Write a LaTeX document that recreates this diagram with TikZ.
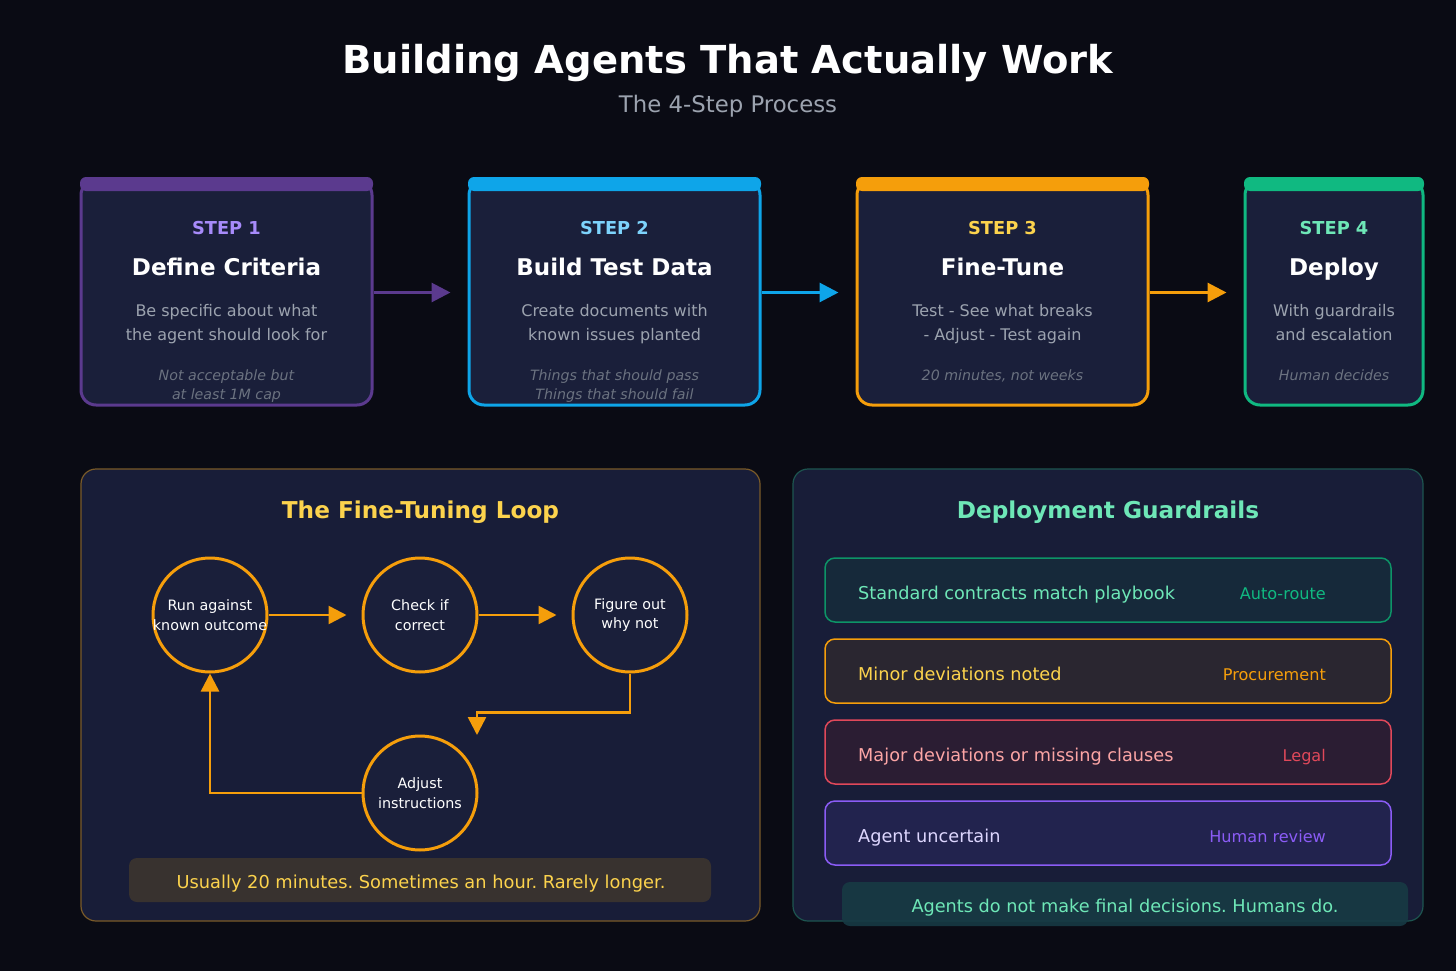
\documentclass[tikz,border=0pt]{standalone}
\usepackage{fontspec}
\setmainfont{DejaVu Sans}
\usetikzlibrary{arrows.meta}
\frenchspacing
\definecolor{bg}{HTML}{0A0B14}
\definecolor{card}{HTML}{1A1F3A}
\definecolor{panel}{HTML}{181D38}
\definecolor{cA}{HTML}{5B3A8E}
\definecolor{cAt}{HTML}{A78BFA}
\definecolor{cB}{HTML}{0EA5E9}
\definecolor{cBt}{HTML}{7DD3FC}
\definecolor{cC}{HTML}{F59E0B}
\definecolor{cCt}{HTML}{FCD34D}
\definecolor{cD}{HTML}{10B981}
\definecolor{cDt}{HTML}{6EE7B7}
\definecolor{cE}{HTML}{E0485A}
\definecolor{cEt}{HTML}{FCA5A5}
\definecolor{cF}{HTML}{8B5CF6}
\definecolor{cFt}{HTML}{DDD6FE}
\definecolor{desc}{HTML}{9CA3AF}
\definecolor{note}{HTML}{6B7280}
\definecolor{lpanel}{HTML}{7A5A28}
\definecolor{rpanel}{HTML}{1D5550}
\definecolor{rowA}{HTML}{16293A}
\definecolor{rowB}{HTML}{2A2630}
\definecolor{rowC}{HTML}{2B1D33}
\definecolor{rowD}{HTML}{22234E}
\definecolor{usual}{HTML}{38322F}
\definecolor{agents}{HTML}{173A44}
\newcommand\fsz[2]{\fontsize{#1}{#2}\selectfont}
\tikzset{
  stepbox/.style={draw=#1, line width=3pt, rounded corners=15pt, fill=card, minimum height=225pt, inner sep=0pt},
  steplbl/.style={anchor=base, inner sep=0pt, text=#1, font=\fsz{17.8}{21}\bfseries},
  steptitle/.style={anchor=base, inner sep=0pt, text=white, font=\fsz{23}{27}\bfseries},
  stepdesc/.style={anchor=base, inner sep=0pt, text=desc, font=\fsz{16}{19}},
  stepnote/.style={anchor=base, inner sep=0pt, text=note, font=\fsz{14.2}{17}\itshape},
  toparr/.style={draw=#1, line width=3pt, -{Triangle[length=19pt,width=19pt]}, shorten >=17pt},
  loopc/.style={circle, draw=cC, line width=3pt, fill=card, minimum size=114pt, inner sep=0pt},
  looptxt/.style={inner sep=0pt, text=white, font=\fsz{14.3}{19.5}, align=center},
  looparr/.style={draw=cC, line width=2.5pt, -{Triangle[length=18pt,width=18pt]}},
  rowbox/.style={draw=#1, line width=1.5pt, rounded corners=10pt, minimum width=566pt, minimum height=64pt, inner sep=0pt},
  rowtxt/.style={anchor=base west, inner sep=0pt, text=#1, font=\fsz{17.7}{21}},
  rowlbl/.style={anchor=base east, inner sep=0pt, text=#1, font=\fsz{16.1}{19}},
}
\begin{document}
\begin{tikzpicture}[x=1pt,y=-1pt]
\useasboundingbox[fill=bg] (0,0) rectangle (1456,971);

% title
\node[anchor=base, inner sep=0pt, text=white, font=\fsz{38.5}{46}\bfseries] (title) at (728,74) {Building Agents That Actually Work};
\node[anchor=base, inner sep=0pt, text=desc, font=\fsz{22.8}{27}] (sub) at (728,113) {The 4-Step Process};

% step boxes
\node[stepbox=cA, minimum width=291pt] (s1) at (226.5,292.5) {};
\node[stepbox=cB, minimum width=291pt] (s2) at (614.5,292.5) {};
\node[stepbox=cC, minimum width=291pt] (s3) at (1002.5,292.5) {};
\node[stepbox=cD, minimum width=178pt] (s4) at (1334,292.5) {};
\fill[cA, rounded corners=6pt] (80,177) rectangle (373,191);
\fill[cB, rounded corners=6pt] (468,177) rectangle (761,191);
\fill[cC, rounded corners=6pt] (856,177) rectangle (1149,191);
\fill[cD, rounded corners=6pt] (1244,177) rectangle (1424,191);

\node[steplbl=cAt] (l1) at (226.5,234) {STEP 1};
\node[steptitle] (t1) at (226.5,275) {Define Criteria};
\node[stepdesc] (d1a) at (226.5,316) {Be specific about what};
\node[stepdesc] (d1b) at (226.5,340) {the agent should look for};
\node[stepnote] (n1a) at (226.5,380) {Not acceptable but};
\node[stepnote] (n1b) at (226.5,399) {at least 1M cap};

\node[steplbl=cBt] (l2) at (614.5,234) {STEP 2};
\node[steptitle] (t2) at (614.5,275) {Build Test Data};
\node[stepdesc] (d2a) at (614.5,316) {Create documents with};
\node[stepdesc] (d2b) at (614.5,340) {known issues planted};
\node[stepnote] (n2a) at (614.5,380) {Things that should pass};
\node[stepnote] (n2b) at (614.5,399) {Things that should fail};

\node[steplbl=cCt] (l3) at (1002.5,234) {STEP 3};
\node[steptitle] (t3) at (1002.5,275) {Fine-Tune};
\node[stepdesc] (d3a) at (1002.5,316) {Test - See what breaks};
\node[stepdesc] (d3b) at (1002.5,340) {- Adjust - Test again};
\node[stepnote] (n3a) at (1002.5,380) {20 minutes, not weeks};

\node[steplbl=cDt] (l4) at (1334,234) {STEP 4};
\node[steptitle] (t4) at (1334,275) {Deploy};
\node[stepdesc] (d4a) at (1334,316) {With guardrails};
\node[stepdesc] (d4b) at (1334,340) {and escalation};
\node[stepnote] (n4a) at (1334,380) {Human decides};

\draw[toparr=cA] (s1) -- (s2);
\draw[toparr=cB] (s2) -- (s3);
\draw[toparr=cC] (s3) -- (s4);

% left panel
\node[draw=lpanel, line width=1.2pt, rounded corners=15pt, fill=panel, minimum width=679pt, minimum height=452pt, inner sep=0pt] (lp) at (420.5,695) {};
\node[anchor=base, inner sep=0pt, text=cCt, font=\fsz{23.2}{27}\bfseries] (lt) at (420.5,518) {The Fine-Tuning Loop};

\node[loopc] (c1) at (210,615) {};
\node[loopc] (c2) at (420,615) {};
\node[loopc] (c3) at (630,615) {};
\node[loopc] (c4) at (420,793) {};
\node[looptxt] (c1t) at (210,615) {Run against\\known outcome};
\node[looptxt] (c2t) at (420,615) {Check if\\correct};
\node[looptxt] (c3t) at (630,615) {Figure out\\why not};
\node[looptxt] (c4t) at (420,793) {Adjust\\instructions};
\coordinate (c4in) at (477,735);
\draw[looparr, shorten >=15pt] (c1) -- (c2);
\draw[looparr, shorten >=15pt] (c2) -- (c3);
\draw[looparr] (c3.south) -- ++(0,39) -| (c4in);
\draw[looparr] (c4.west) -| (c1.south);

\node[fill=usual, rounded corners=8pt, minimum width=582pt, minimum height=44pt, inner sep=0pt] (us) at (420,880) {};
\node[anchor=base, inner sep=0pt, text=cCt, font=\fsz{17.8}{21}] (ust) at (421,888) {Usually 20 minutes. Sometimes an hour. Rarely longer.};

% right panel
\node[draw=rpanel, line width=1.2pt, rounded corners=15pt, fill=panel, minimum width=630pt, minimum height=452pt, inner sep=0pt] (rp) at (1108,695) {};
\node[anchor=base, inner sep=0pt, text=cDt, font=\fsz{23.2}{27}\bfseries] (rt) at (1108,518) {Deployment Guardrails};

\node[rowbox=cD!80!black, fill=rowA] (r1) at (1108,590) {};
\node[rowbox=cC, fill=rowB] (r2) at (1108,671) {};
\node[rowbox=cE, fill=rowC] (r3) at (1108,752) {};
\node[rowbox=cF, fill=rowD] (r4) at (1108,833) {};

\node[rowtxt=cDt] (r1t) at (858,599) {Standard contracts match playbook};
\node[rowlbl=cD] (r1l) at (1326,599) {Auto-route};
\node[rowtxt=cCt] (r2t) at (858,680) {Minor deviations noted};
\node[rowlbl=cC] (r2l) at (1326,680) {Procurement};
\node[rowtxt=cEt] (r3t) at (858,761) {Major deviations or missing clauses};
\node[rowlbl=cE] (r3l) at (1326,761) {Legal};
\node[rowtxt=cFt] (r4t) at (858,842) {Agent uncertain};
\node[rowlbl=cF] (r4l) at (1326,842) {Human review};

\node[fill=agents, fill opacity=0.9, rounded corners=8pt, minimum width=566pt, minimum height=44pt, inner sep=0pt] (ag) at (1125,904) {};
\node[anchor=base, inner sep=0pt, text=cDt, font=\fsz{17.7}{21}] (agt) at (1125,912) {Agents do not make final decisions. Humans do.};
\end{tikzpicture}
\end{document}
